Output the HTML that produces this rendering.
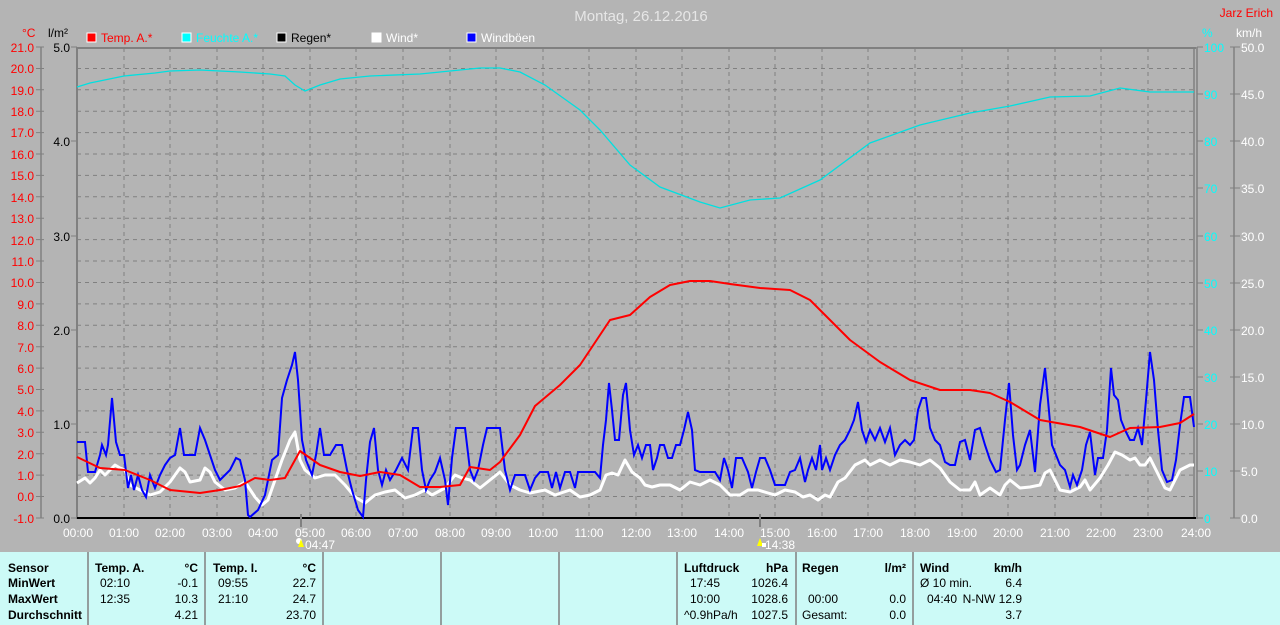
<!DOCTYPE html>
<html><head><meta charset="utf-8"><style>
html,body{margin:0;padding:0;background:#b4b4b4;}
svg{display:block;font-family:"Liberation Sans",sans-serif;}
</style></head><body>
<svg width="1280" height="625" xmlns="http://www.w3.org/2000/svg">
<rect width="1280" height="625" fill="#b4b4b4"/>
<text x="641" y="21" font-size="15" fill="#e6e6e6" text-anchor="middle">Montag, 26.12.2016</text>
<text x="1273" y="17" font-size="12" fill="#ff0000" text-anchor="end">Jarz Erich</text>
<!-- legend -->
<g font-size="12">
<rect x="87" y="33" width="9" height="9" fill="#f00" stroke="#fff"/><text x="101" y="42" fill="#f00">Temp. A.*</text>
<rect x="182" y="33" width="9" height="9" fill="#0ff" stroke="#fff"/><text x="196" y="42" fill="#0ff">Feuchte A.*</text>
<rect x="277" y="33" width="9" height="9" fill="#000" stroke="#fff"/><text x="291" y="42" fill="#000">Regen*</text>
<rect x="372" y="33" width="9" height="9" fill="#fff" stroke="#fff"/><text x="386" y="42" fill="#fff">Wind*</text>
<rect x="467" y="33" width="9" height="9" fill="#00f" stroke="#fff"/><text x="481" y="42" fill="#fff">Windböen</text>
<text x="22" y="37" fill="#f00">°C</text>
<text x="48" y="37" fill="#000">l/m²</text>
<text x="1202" y="37" fill="#0ff">%</text>
<text x="1236" y="37" fill="#fff">km/h</text>
</g>
<!-- grid -->
<g stroke="#808080" stroke-dasharray="4,4" stroke-width="1">
<path d="M77 68.5H1194M77 89.8H1194M77 111.2H1194M77 132.6H1194M77 154H1194M77 175.4H1194M77 196.8H1194M77 218.2H1194M77 239.6H1194M77 261H1194M77 282.5H1194M77 303.9H1194M77 325.3H1194M77 346.7H1194M77 368.1H1194M77 389.5H1194M77 410.9H1194M77 432.3H1194M77 453.7H1194M77 475.1H1194M77 496.5H1194"/>
<path d="M124 48V518M170 48V518M217 48V518M263 48V518M310 48V518M356 48V518M403 48V518M450 48V518M496 48V518M543 48V518M589 48V518M636 48V518M682 48V518M729 48V518M775 48V518M822 48V518M868 48V518M915 48V518M962 48V518M1008 48V518M1055 48V518M1101 48V518M1148 48V518"/>
</g>
<!-- borders -->
<path d="M77 48H1196" stroke="#808080" stroke-width="2"/>
<path d="M77 47V519" stroke="#808080" stroke-width="2"/>
<path d="M1194 47V519M1197 47V519" stroke="#808080" stroke-width="1.5"/>
<path d="M77 518H1196" stroke="#000" stroke-width="2"/>
<path d="M41 47V518M1234 47V518" stroke="#808080" stroke-width="1.5"/>
<!-- left temp axis -->
<g font-size="12" fill="#f00" text-anchor="end">
<text x="34" y="52">21.0</text><text x="34" y="73">20.0</text><text x="34" y="95">19.0</text><text x="34" y="116">18.0</text><text x="34" y="137">17.0</text><text x="34" y="159">16.0</text><text x="34" y="180">15.0</text><text x="34" y="202">14.0</text><text x="34" y="223">13.0</text><text x="34" y="245">12.0</text><text x="34" y="266">11.0</text><text x="34" y="287">10.0</text><text x="34" y="309">9.0</text><text x="34" y="330">8.0</text><text x="34" y="352">7.0</text><text x="34" y="373">6.0</text><text x="34" y="394">5.0</text><text x="34" y="416">4.0</text><text x="34" y="437">3.0</text><text x="34" y="459">2.0</text><text x="34" y="480">1.0</text><text x="34" y="501">0.0</text><text x="34" y="523">-1.0</text>
</g>
<g stroke="#808080"><path d="M36 47H44M36 68.5H44M36 89.8H44M36 111.2H44M36 132.6H44M36 154H44M36 175.4H44M36 196.8H44M36 218.2H44M36 239.6H44M36 261H44M36 282.5H44M36 303.9H44M36 325.3H44M36 346.7H44M36 368.1H44M36 389.5H44M36 410.9H44M36 432.3H44M36 453.7H44M36 475.1H44M36 496.5H44M36 518H44"/>
<path d="M71 47H77M71 141H77M71 236H77M71 330H77M71 424H77M71 518H77"/>
<path d="M1197 47H1203M1197 94H1203M1197 141H1203M1197 188H1203M1197 236H1203M1197 283H1203M1197 330H1203M1197 377H1203M1197 424H1203M1197 471H1203M1197 518H1203"/>
<path d="M1230 47H1240M1230 94H1240M1230 141H1240M1230 188H1240M1230 236H1240M1230 283H1240M1230 330H1240M1230 377H1240M1230 424H1240M1230 471H1240M1230 518H1240"/></g>
<g font-size="12" fill="#000" text-anchor="end">
<text x="70" y="52">5.0</text><text x="70" y="146">4.0</text><text x="70" y="241">3.0</text><text x="70" y="335">2.0</text><text x="70" y="429">1.0</text><text x="70" y="523">0.0</text></g>
<g font-size="12" fill="#0ff">
<text x="1204" y="52">100</text><text x="1204" y="99">90</text><text x="1204" y="146">80</text><text x="1204" y="193">70</text><text x="1204" y="241">60</text><text x="1204" y="288">50</text><text x="1204" y="335">40</text><text x="1204" y="382">30</text><text x="1204" y="429">20</text><text x="1204" y="476">10</text><text x="1204" y="523">0</text></g>
<g font-size="12" fill="#fff">
<text x="1241" y="52">50.0</text><text x="1241" y="99">45.0</text><text x="1241" y="146">40.0</text><text x="1241" y="193">35.0</text><text x="1241" y="241">30.0</text><text x="1241" y="288">25.0</text><text x="1241" y="335">20.0</text><text x="1241" y="382">15.0</text><text x="1241" y="429">10.0</text><text x="1241" y="476">5.0</text><text x="1241" y="523">0.0</text></g>
<!-- x labels -->
<g font-size="12" fill="#fff" text-anchor="middle">
<text x="78" y="537">00:00</text><text x="124" y="537">01:00</text><text x="170" y="537">02:00</text><text x="217" y="537">03:00</text><text x="263" y="537">04:00</text><text x="310" y="537">05:00</text><text x="356" y="537">06:00</text><text x="403" y="537">07:00</text><text x="450" y="537">08:00</text><text x="496" y="537">09:00</text><text x="543" y="537">10:00</text><text x="589" y="537">11:00</text><text x="636" y="537">12:00</text><text x="682" y="537">13:00</text><text x="729" y="537">14:00</text><text x="775" y="537">15:00</text><text x="822" y="537">16:00</text><text x="868" y="537">17:00</text><text x="915" y="537">18:00</text><text x="962" y="537">19:00</text><text x="1008" y="537">20:00</text><text x="1055" y="537">21:00</text><text x="1101" y="537">22:00</text><text x="1148" y="537">23:00</text><text x="1196" y="537">24:00</text>
<text x="320" y="549">04:47</text><text x="780" y="549">14:38</text></g>
<path d="M301 514V527M760 514V527" stroke="#808080" stroke-width="2"/>
<circle cx="299" cy="541" r="3" fill="#fff"/><path d="M301 539l3 8h-6z" fill="#ff0"/>
<path d="M760 538l3 8h-6z" fill="#ff0"/><rect x="762" y="543" width="4" height="4" fill="#fff"/>
<!-- series -->
<polyline fill="none" stroke="#00e0e0" stroke-width="1.3" points="77,87 90,83 124,76 155,73 170,71 200,70 240,72 270,74 285,76 295,85 305,91 320,85 340,79 370,76 420,74 480,68 500,68 520,72 545,85 580,110 600,130 630,165 660,187 700,202 720,208 750,200 780,198 820,180 870,143 920,125 970,113 1010,106 1050,97 1090,96 1120,88 1150,92 1194,92"/>
<polyline fill="none" stroke="#fff" stroke-width="3" stroke-linejoin="round" points="77,483 85,478 90,483 95,478 100,470 105,475 110,470 115,465 120,468 125,470 130,485 140,490 150,495 160,492 170,482 175,475 180,468 185,472 190,482 200,480 205,468 210,472 215,482 225,490 235,488 245,482 255,497 262,505 268,500 275,480 282,460 290,440 295,432 300,460 305,470 315,478 325,475 335,475 345,485 355,497 365,503 375,495 385,492 395,490 405,498 415,495 425,490 432,495 445,488 455,475 462,478 470,480 480,488 490,480 500,472 510,485 520,490 530,493 545,490 555,495 570,490 580,497 590,495 600,490 606,475 612,473 618,475 625,460 632,472 640,478 645,485 652,487 660,485 670,485 680,490 690,482 700,485 710,480 720,485 730,495 740,495 748,490 758,490 768,493 775,495 785,490 795,492 803,497 810,495 818,500 825,495 830,497 838,482 845,478 855,465 865,460 870,465 880,460 890,465 900,460 910,462 920,465 930,460 940,468 950,482 960,490 970,490 975,482 980,495 990,488 1000,495 1005,485 1010,480 1020,488 1030,487 1040,485 1045,473 1050,470 1055,480 1060,490 1070,492 1080,487 1085,480 1090,490 1100,478 1108,465 1115,452 1122,455 1130,460 1135,458 1140,465 1145,465 1150,458 1155,468 1160,478 1165,488 1170,490 1175,480 1180,470 1190,465 1194,465"/>
<polyline fill="none" stroke="#0000ff" stroke-width="2" points="77,442 85,442 88,472 95,472 100,455 102,445 106,455 108,445 112,398 116,442 120,455 124,455 128,488 131,475 134,490 138,475 142,490 146,497 150,475 155,488 160,475 165,465 170,458 175,455 180,428 184,455 190,455 195,455 200,428 205,440 210,455 215,470 220,480 225,475 230,470 236,458 240,460 245,480 248,515 250,517 258,510 265,495 272,460 278,455 282,398 287,380 292,365 295,352 298,380 302,440 306,460 312,475 316,455 320,428 324,455 330,455 336,445 342,445 347,470 352,490 358,510 363,517 366,480 370,442 374,428 378,470 382,485 386,470 390,480 396,470 402,458 408,470 413,428 418,428 422,470 426,490 430,480 435,472 440,458 445,480 448,505 452,458 456,428 465,428 470,470 474,480 478,470 483,445 487,428 500,428 505,470 510,490 515,475 520,475 525,475 530,490 535,478 540,472 548,472 552,488 556,472 560,488 565,472 570,472 575,488 578,472 582,472 590,472 595,472 600,478 603,445 606,420 609,383 612,410 615,440 619,440 623,395 626,383 630,430 634,455 638,445 642,458 646,445 650,445 653,470 657,458 660,445 664,445 668,458 672,458 676,445 680,445 684,430 688,412 692,430 695,470 700,472 710,472 715,472 720,480 724,458 728,470 732,488 736,458 742,458 748,472 752,488 756,472 760,458 765,458 770,470 775,485 780,485 785,485 790,472 795,470 800,458 805,482 808,470 812,458 816,470 820,445 822,470 826,458 830,470 835,455 840,445 845,440 850,430 854,420 858,402 862,430 866,442 870,430 875,440 880,428 885,442 890,428 895,455 900,445 905,440 910,445 914,440 918,410 922,398 926,398 930,428 935,440 940,445 945,462 950,465 955,465 960,442 965,440 970,460 975,430 980,428 985,445 990,460 996,472 1000,470 1005,420 1009,383 1013,435 1017,470 1020,465 1025,445 1030,430 1035,472 1040,405 1045,368 1048,400 1052,445 1056,455 1060,465 1065,470 1070,487 1073,475 1077,485 1082,470 1086,445 1090,432 1095,475 1098,458 1103,458 1107,430 1111,368 1114,395 1118,400 1121,420 1125,430 1130,440 1134,440 1138,428 1142,445 1146,400 1150,352 1154,380 1158,430 1162,470 1167,482 1172,480 1176,460 1180,425 1184,397 1190,397 1194,427"/>
<polyline fill="none" stroke="#ff0000" stroke-width="2" stroke-linejoin="round" points="77,457 100,468 125,470 150,480 170,490 200,493 220,490 240,486 255,478 270,480 285,478 300,451 320,465 340,472 360,476 380,472 400,475 420,487 440,487 460,485 470,467 490,470 500,462 520,435 535,406 560,385 580,365 600,335 610,320 630,315 650,297 670,285 690,281 710,281 730,284 760,288 790,290 810,300 830,320 850,340 880,362 910,380 940,390 970,390 990,393 1010,402 1040,420 1080,427 1110,437 1130,428 1160,427 1180,423 1194,414"/>
<!-- table -->
<rect x="0" y="552" width="1280" height="73" fill="#ccfaf7"/>
<g stroke="#808080" stroke-width="1.5"><path d="M88 552V625M205 552V625M323 552V625M441 552V625M559 552V625M677 552V625M796 552V625M913 552V625"/></g>
<g font-size="12" fill="#000">
<g font-weight="bold"><text x="8" y="572">Sensor</text><text x="8" y="587">MinWert</text><text x="8" y="603">MaxWert</text><text x="8" y="619">Durchschnitt</text>
<text x="95" y="572">Temp. A.</text><text x="198" y="572" text-anchor="end">°C</text>
<text x="213" y="572">Temp. I.</text><text x="316" y="572" text-anchor="end">°C</text>
<text x="684" y="572">Luftdruck</text><text x="788" y="572" text-anchor="end">hPa</text>
<text x="802" y="572">Regen</text><text x="906" y="572" text-anchor="end">l/m²</text>
<text x="920" y="572">Wind</text><text x="1022" y="572" text-anchor="end">km/h</text></g>
<text x="100" y="587">02:10</text><text x="198" y="587" text-anchor="end">-0.1</text>
<text x="100" y="603">12:35</text><text x="198" y="603" text-anchor="end">10.3</text>
<text x="198" y="619" text-anchor="end">4.21</text>
<text x="218" y="587">09:55</text><text x="316" y="587" text-anchor="end">22.7</text>
<text x="218" y="603">21:10</text><text x="316" y="603" text-anchor="end">24.7</text>
<text x="316" y="619" text-anchor="end">23.70</text>
<text x="690" y="587">17:45</text><text x="788" y="587" text-anchor="end">1026.4</text>
<text x="690" y="603">10:00</text><text x="788" y="603" text-anchor="end">1028.6</text>
<text x="684" y="619">^0.9hPa/h</text><text x="788" y="619" text-anchor="end">1027.5</text>
<text x="808" y="603">00:00</text><text x="906" y="603" text-anchor="end">0.0</text>
<text x="802" y="619">Gesamt:</text><text x="906" y="619" text-anchor="end">0.0</text>
<text x="920" y="587">Ø 10 min.</text><text x="1022" y="587" text-anchor="end">6.4</text>
<text x="927" y="603">04:40</text><text x="1022" y="603" text-anchor="end">N-NW 12.9</text>
<text x="1022" y="619" text-anchor="end">3.7</text>
</g>
</svg>
</body></html>
